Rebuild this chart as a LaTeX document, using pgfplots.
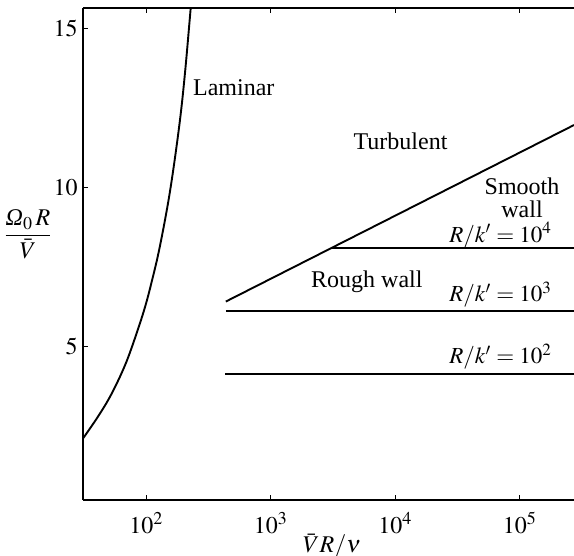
\documentclass[border=0pt,12pt]{standalone}
\usepackage{mathptmx}
\usepackage[no-math]{fontspec}
\setmainfont{Liberation Serif}
\usepackage{pgfplots}
\pgfplotsset{compat=1.18}
\begin{document}
\begin{tikzpicture}
\begin{axis}[
  at={(0,0)}, anchor=south west,
  scale only axis, width=245.5pt, height=246pt,
  xmode=log, log basis x=10,
  xmin=31, xmax=2.72e5, ymin=0.18, ymax=15.65,
  axis x line*=box, axis y line*=left,
  axis line style={line width=1pt},
  xtick={1e2,1e3,1e4,1e5}, ytick={5,10,15},
  xminorticks=false, yminorticks=false,
  tick align=inside, major tick length=2.5pt,
  tick style={line width=0.6pt, black},
  ticklabel style={font=\fontsize{12}{14}\selectfont},
  xticklabel style={yshift=-2pt},
  yticklabel style={xshift=1.5pt},
  xlabel={$\bar{V}R/\nu$},
  every axis x label/.style={at={(axis description cs:0.507,-0.094)}, anchor=center},
  ylabel={$\displaystyle\frac{\mbox{\itshape Ω}_0\,R}{\bar{V}}$},
  every axis y label/.style={at={(axis description cs:-0.112,0.54)}, anchor=center},
  label style={font=\fontsize{12}{14}\selectfont},
]
\addplot[black, line width=0.95pt, smooth, tension=0.6] coordinates {
 (30.3,2.06) (40.7,2.79) (52.1,3.49) (66.8,4.38) (80.4,5.23) (96.8,6.20) (110.7,7.06) (128.2,8.14) (154.5,9.86) (183.2,11.9) (203.7,13.55) (227.5,15.68) (236,16.4)
};
\addplot[black, line width=0.95pt] coordinates {(435,6.42) (2.72e5,11.97)};
\addplot[black, line width=0.95pt] coordinates {(3040,8.10) (2.72e5,8.10)};
\addplot[black, line width=0.95pt] coordinates {(435,6.12) (2.72e5,6.12)};
\addplot[black, line width=0.95pt] coordinates {(430,4.13) (2.72e5,4.13)};
\node[anchor=west, inner sep=0pt] at (axis cs:236,13.14) {Laminar};
\node at (axis cs:1.1e4,11.45) {Turbulent};
\node[align=center, inner sep=0pt, font=\fontsize{12}{11.5}\selectfont] at (axis cs:1.04e5,9.67) {Smooth\\wall};
\node[inner sep=0pt, font=\fontsize{11.5}{13}\selectfont] at (axis cs:7.0e4,8.51) {$R/k' = 10^4$};
\node[inner sep=0pt, font=\fontsize{11.5}{13}\selectfont] at (axis cs:7.0e4,6.63) {$R/k' = 10^3$};
\node[inner sep=0pt, font=\fontsize{11.5}{13}\selectfont] at (axis cs:7.0e4,4.69) {$R/k' = 10^2$};
\node at (axis cs:5900,7.03) {Rough wall};
\end{axis}
\pgfresetboundingbox
\useasboundingbox (-41.5pt,-28pt) rectangle (245.5pt,250pt);
\end{tikzpicture}
\end{document}
